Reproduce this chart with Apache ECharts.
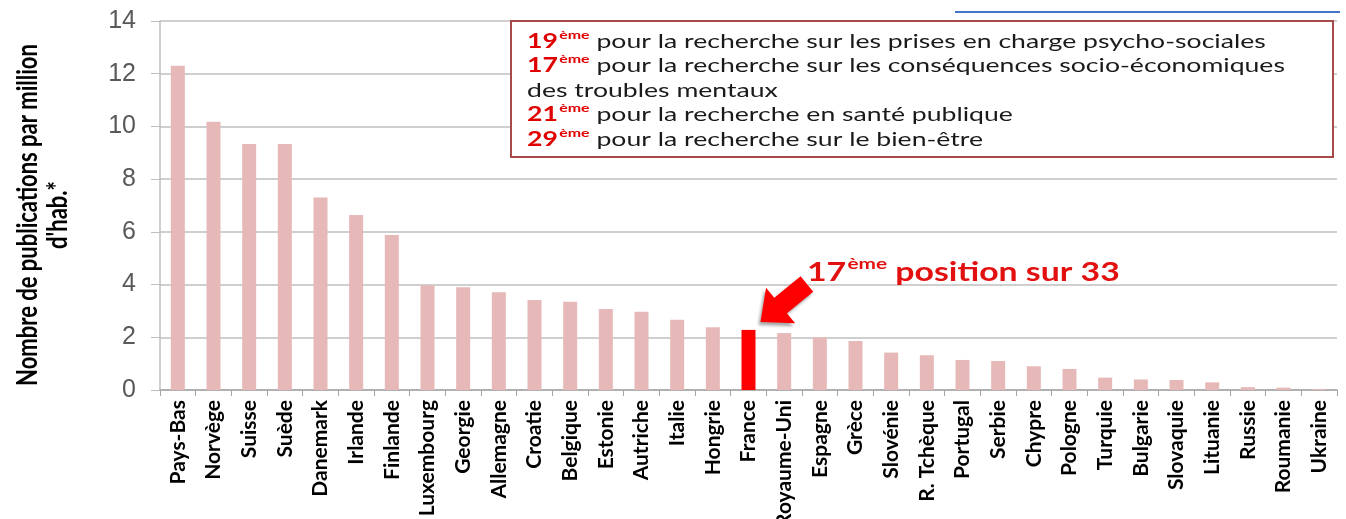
<!DOCTYPE html>
<html>
<head>
<meta charset="utf-8">
<script src="https://cdn.jsdelivr.net/npm/echarts@6/dist/echarts.min.js"></script>
<style>
  html, body { margin: 0; padding: 0; background: #fff; }
  #chart { width: 1346px; height: 519px; }
</style>
</head>
<body>
<div id="chart"></div>
<script>
// Countries, ordered by publications per million inhabitants
const countries = [
  "Pays-Bas", "Norvège", "Suisse", "Suède", "Danemark", "Irlande", "Finlande",
  "Luxembourg", "Georgie", "Allemagne", "Croatie", "Belgique", "Estonie",
  "Autriche", "Italie", "Hongrie", "France", "Royaume-Uni", "Espagne", "Grèce",
  "Slovénie", "R. Tchèque", "Portugal", "Serbie", "Chypre", "Pologne", "Turquie",
  "Bulgarie", "Slovaquie", "Lituanie", "Russie", "Roumanie", "Ukraine"
];
const publications = [
  12.3, 10.18, 9.33, 9.33, 7.3, 6.64, 5.88,
  3.97, 3.9, 3.71, 3.41, 3.35, 3.07,
  2.97, 2.67, 2.38, 2.28, 2.16, 2.0, 1.86,
  1.42, 1.32, 1.14, 1.1, 0.9, 0.8, 0.47,
  0.4, 0.38, 0.29, 0.11, 0.09, 0.04
];
const highlighted = "France";
const franceRank = ["17", " position sur 33"];
const yTitle = "Nombre de publications par million\nd'hab.*";

// Rankings shown in the box (rank, text, continuation line)
const rankings = [
  ["19", " pour la recherche sur les prises en charge psycho-sociales"],
  ["17", " pour la recherche sur les conséquences socio-économiques", "des troubles mentaux"],
  ["21", " pour la recherche en santé publique"],
  ["29", " pour la recherche sur le bien-être"]
];

const pink = "#e6b9b8";
const red = "#ff0000";
const boxFont = "Lato";
const stretch = 1.33; // the original slide is stretched horizontally

const chart = echarts.init(document.getElementById("chart"));

const boxText = rankings
  .map((r) => {
    let s = "{num|" + r[0] + "}{sup|ème}{txt|" + r[1] + "}";
    if (r[2]) s += "\n{txt|" + r[2] + "}";
    return s;
  })
  .join("\n");

const option = {
  animation: false,
  grid: {
    left: 160, right: 9, top: 21, bottom: 129,
    containLabel: false,
    outerBoundsMode: "none"
  },
  xAxis: {
    type: "category",
    data: countries,
    axisLine: { lineStyle: { color: "#a6a6a6", width: 1.5 } },
    axisTick: { show: true, length: 6, lineStyle: { color: "#a6a6a6" } },
    axisLabel: {
      rotate: 90,
      interval: 0,
      margin: 10,
      fontFamily: "Lato",
      fontWeight: "bold",
      fontSize: 21,
      color: "#000"
    }
  },
  yAxis: {
    type: "value",
    min: 0,
    max: 14,
    interval: 2,
    axisLine: { show: true, lineStyle: { color: "#bfbfbf", width: 1.5 } },
    axisTick: { show: true, length: 9, lineStyle: { color: "#bfbfbf" } },
    axisLabel: {
      margin: 24,
      fontFamily: "Liberation Sans",
      fontSize: 25,
      color: "#595959"
    },
    splitLine: { lineStyle: { color: "#bfbfbf", width: 1.5 } }
  },
  series: [
    {
      type: "bar",
      barWidth: 14,
      data: publications.map((v, i) => ({
        value: v,
        itemStyle: { color: countries[i] === highlighted ? red : pink }
      }))
    }
  ]
};

chart.setOption(option);

// Annotations positioned from the France bar
const fIdx = countries.indexOf(highlighted);
const barTop = chart.convertToPixel({ seriesIndex: 0 }, [fIdx, publications[fIdx]]);
const tipX = barTop[0] + 12, tipY = barTop[1] - 8;
const ang = Math.atan2(-36, 44); // direction from tip back to tail
const ux = Math.cos(ang), uy = Math.sin(ang);
const px = -uy, py = ux;
const L = 60, head = 26, hw = 23, sw = 10;
const pt = (a, b) => [tipX + ux * a + px * b, tipY + uy * a + py * b];
const arrowPts = [
  pt(0, 0), pt(head, hw), pt(head, sw), pt(L, sw),
  pt(L, -sw), pt(head, -sw), pt(head, -hw)
];

chart.setOption({
  graphic: [
    {
      type: "line",
      shape: { x1: 955, y1: 12, x2: 1340, y2: 12 },
      style: { stroke: "#4472c4", lineWidth: 2 }
    },
    {
      type: "text",
      x: 43,
      y: 215,
      rotation: Math.PI / 2,
      scaleY: 1.3,
      style: {
        text: yTitle,
        fontFamily: "Lato",
        fontWeight: "bold",
        fontSize: 22,
        lineHeight: 23,
        fill: "#000",
        align: "center",
        verticalAlign: "middle"
      }
    },
    {
      type: "rect",
      shape: { x: 511, y: 21, width: 822, height: 136 },
      style: { fill: "#fff", stroke: "#a94a4a", lineWidth: 2 },
      z: 10
    },
    {
      type: "text",
      x: 527,
      y: 27,
      scaleX: stretch,
      z: 11,
      style: {
        text: boxText,
        font: "20px " + boxFont,
        lineHeight: 24.5,
        rich: {
          num: { fontFamily: boxFont, fontWeight: "bold", fontSize: 20, fill: "#e00000", lineHeight: 24.5, verticalAlign: "bottom" },
          sup: { fontFamily: boxFont, fontWeight: "bold", fontSize: 12, fill: "#e00000", lineHeight: 24.5, verticalAlign: "top", padding: [2, 0, 0, 1] },
          txt: { fontFamily: boxFont, fontSize: 20, fill: "#1a1a1a", lineHeight: 24.5, verticalAlign: "bottom" }
        }
      }
    },
    {
      type: "polygon",
      shape: { points: arrowPts },
      style: {
        fill: red,
        shadowBlur: 3,
        shadowColor: "rgba(0,0,0,0.35)",
        shadowOffsetX: -2,
        shadowOffsetY: 3
      },
      z: 12
    },
    {
      type: "text",
      x: 807,
      y: 256,
      scaleX: 1.3,
      z: 12,
      style: {
        text: "{n|" + franceRank[0] + "}{s|ème}{n|" + franceRank[1] + "}",
        rich: {
          n: { fontFamily: "Lato", fontWeight: "bold", fontSize: 26, fill: "#e31010", lineHeight: 30, verticalAlign: "bottom" },
          s: { fontFamily: "Lato", fontWeight: "bold", fontSize: 16, fill: "#e31010", lineHeight: 30, verticalAlign: "top", padding: [0, 0, 0, 1] }
        }
      }
    }
  ]
});
</script>
</body>
</html>
